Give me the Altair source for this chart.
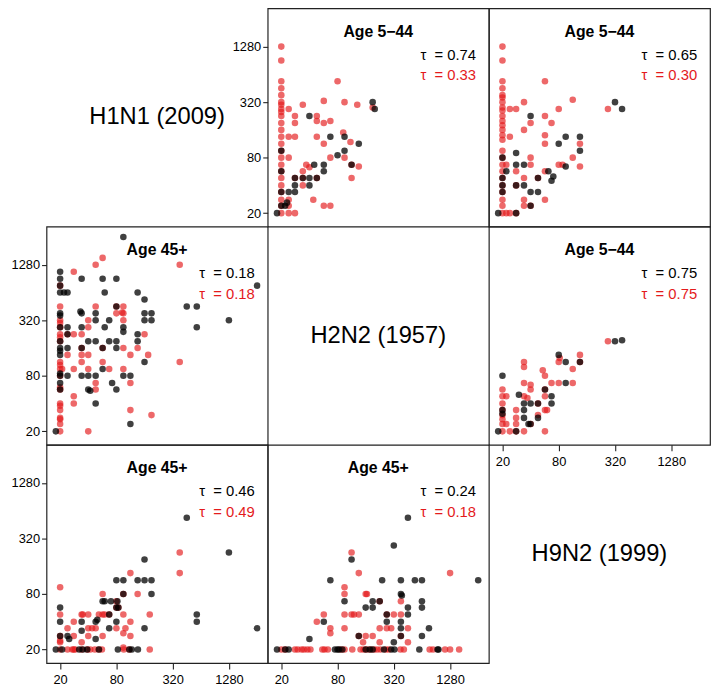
import altair as alt
import pandas as pd

FONT = "Liberation Sans"
RED = "#E41A1C"
TICKS = [20, 80, 320, 1280]
DOMAIN = [14.3, 3327]
W, H = 224, 221

# ---- Age 5-44 panels (upper triangle) ----
p12_red = [(20, 1280), (20, 905), (20, 538), (20, 453), (20, 381), (20, 320), (20, 300), (20, 269),
           (20, 250), (24, 269), (20, 226), (20, 190), (20, 160), (20, 135), (20, 113), (24, 135),
           (28, 135), (20, 95), (20, 80), (24, 80), (20, 67), (20, 57), (20, 48), (20, 40), (20, 34),
           (20, 28), (20, 24), (20, 20), (24, 20), (24, 28), (28, 20), (24, 24), (34, 300), (28, 226),
           (28, 190), (48, 226), (48, 200), (57, 190), (67, 200), (57, 330), (80, 538), (95, 320),
           (130, 300), (190, 280), (48, 135), (57, 113), (92, 150), (110, 118), (67, 80), (95, 80),
           (113, 67), (135, 64), (37, 67), (40, 63), (34, 57), (28, 48), (34, 48), (34, 40), (48, 48),
           (44, 28), (57, 24), (67, 24), (113, 48)]
p12_black = [(18, 20), (20, 24), (22, 24), (20, 34), (20, 57), (20, 95), (24, 34), (28, 40), (28, 34),
             (28, 48), (34, 48), (40, 40), (40, 48), (48, 48), (45, 67), (57, 67), (57, 57), (40, 226),
             (67, 135), (95, 135), (95, 95), (80, 85), (135, 113), (113, 67), (190, 320), (200, 269),
             (23, 26)]

p13_red = [(20, 1280), (20, 905), (20, 538), (20, 453), (20, 381), (20, 360), (20, 320), (20, 280),
           (20, 260), (20, 226), (20, 200), (20, 180), (20, 160), (20, 140), (20, 125), (20, 95),
           (20, 80), (20, 67), (20, 57), (20, 48), (20, 40), (20, 34), (20, 28), (20, 24), (20, 20),
           (24, 135), (24, 269), (28, 269), (34, 320), (57, 538), (113, 340), (80, 269), (57, 226),
           (40, 190), (67, 190), (34, 160), (57, 140), (57, 113), (22, 67), (28, 57), (40, 80),
           (40, 67), (34, 48), (28, 40), (34, 28), (48, 48), (57, 28), (57, 57), (80, 67), (88, 67),
           (113, 80), (135, 64), (135, 113), (269, 269), (24, 20), (28, 20), (34, 24), (40, 24),
           (22, 20)]
p13_black = [(18, 20), (20, 48), (20, 40), (20, 34), (22, 57), (20, 80), (28, 90), (28, 67), (34, 67),
             (28, 40), (34, 40), (40, 34), (48, 34), (40, 24), (28, 20), (48, 48), (62, 57), (67, 45),
             (70, 50), (40, 226), (80, 113), (95, 135), (95, 64), (135, 95), (135, 135), (320, 320),
             (381, 269)]

p23_red = [(20, 57), (20, 48), (20, 40), (20, 34), (20, 30), (20, 27), (20, 24), (20, 20), (22, 48),
           (22, 24), (24, 20), (28, 20), (28, 34), (28, 28), (28, 24), (34, 20), (34, 48), (37, 46),
           (34, 67), (34, 113), (34, 100), (40, 57), (40, 64), (40, 24), (48, 40), (48, 30), (57, 20),
           (57, 48), (57, 34), (57, 57), (60, 34), (57, 80), (54, 92), (67, 67), (80, 113), (82, 125),
           (80, 67), (113, 67), (113, 95), (135, 135), (135, 113), (269, 190)]
p23_black = [(18, 20), (20, 80), (20, 34), (20, 31), (28, 20), (30, 50), (34, 40), (34, 34), (40, 40),
             (48, 28), (34, 28), (40, 24), (38, 24), (48, 40), (57, 57), (67, 40), (67, 48), (80, 135),
             (95, 113), (95, 67), (135, 113), (320, 190), (381, 195)]

# ---- Age 45+ panels (lower triangle) ----
p21_red = [(20, 20), (20, 761), (20, 453), (20, 320), (20, 300), (20, 269), (20, 226), (20, 210),
           (20, 190), (20, 113), (20, 105), (20, 95), (20, 80), (20, 60), (20, 57), (20, 40), (20, 38),
           (20, 34), (20, 28), (20, 27), (20, 24), (21, 95), (24, 226), (28, 1076), (28, 226),
           (28, 40), (28, 48), (24, 135), (28, 95), (34, 226), (34, 135), (34, 160), (34, 113),
           (40, 135), (40, 269), (40, 320), (40, 95), (40, 20), (48, 1280), (48, 453), (48, 67),
           (48, 57), (57, 113), (57, 1522), (57, 160), (67, 95), (80, 453), (80, 381), (92, 390),
           (95, 381), (95, 453), (95, 320), (95, 160), (95, 95), (113, 135), (113, 67), (113, 34),
           (135, 160), (160, 226), (175, 135), (190, 30), (381, 113), (381, 1280)]
p21_black = [(18, 20), (20, 1076), (20, 905), (20, 761), (20, 640), (22, 640), (24, 640), (20, 381),
             (20, 360), (20, 269), (20, 190), (20, 160), (20, 150), (20, 135), (20, 85), (20, 80),
             (20, 67), (20, 57), (24, 269), (24, 226), (24, 160), (24, 80), (34, 381), (33, 400),
             (34, 905), (34, 269), (34, 160), (34, 80), (40, 80), (40, 57), (42, 55), (40, 190),
             (48, 190), (48, 320), (48, 381), (48, 80), (48, 40), (57, 905), (57, 160), (57, 95),
             (60, 640), (60, 269), (67, 320), (67, 190), (72, 67), (80, 190), (80, 57), (80, 160),
             (80, 905), (80, 453), (95, 80), (95, 269), (95, 240), (113, 80), (113, 24), (135, 640),
             (135, 226), (135, 190), (160, 113), (160, 381), (160, 320), (160, 538), (190, 320),
             (190, 381), (95, 2560), (453, 453), (580, 453), (580, 269), (1280, 320), (2560, 761)]

p31_red = [(20, 20), (24, 20), (27, 20), (28, 20), (29, 20), (34, 20), (39, 20), (42, 20), (47, 20),
           (52, 20), (56, 20), (96, 20), (110, 20), (182, 20), (20, 48), (20, 24), (20, 25), (20, 95),
           (24, 34), (28, 40), (28, 28), (34, 48), (35, 48), (34, 24), (40, 34), (40, 28), (40, 48),
           (44, 34), (48, 34), (52, 48), (57, 28), (57, 48), (57, 80), (60, 48), (67, 48), (80, 34),
           (80, 57), (80, 67), (84, 57), (95, 30), (95, 80), (95, 48), (100, 34), (113, 28),
           (113, 135), (113, 40), (95, 21), (135, 80), (182, 48), (381, 226), (381, 135), (20, 28)]
p31_black = [(18, 20), (21, 20), (32, 20), (35, 20), (39, 20), (52, 20), (83, 20), (110, 20),
             (117, 20), (136, 20), (20, 57), (20, 40), (20, 28), (24, 28), (25, 26), (34, 40),
             (34, 32), (48, 40), (48, 26), (50, 42), (57, 67), (60, 67), (67, 48), (67, 34), (70, 67),
             (80, 113), (82, 67), (80, 40), (80, 57), (84, 57), (95, 113), (95, 80), (135, 113),
             (160, 190), (160, 34), (160, 113), (190, 113), (190, 80), (453, 538), (580, 48),
             (580, 40), (1280, 226), (2560, 34)]

p32_red = [(20, 20), (22, 20), (28, 20), (30, 20), (33, 20), (35, 20), (38, 20), (41, 20), (55, 20),
           (58, 20), (63, 20), (87, 20), (95, 20), (115, 20), (141, 20), (152, 20), (164, 20),
           (180, 20), (197, 20), (212, 20), (230, 20), (262, 20), (282, 20), (377, 20), (410, 20),
           (774, 20), (840, 20), (1130, 20), (1280, 20), (1600, 20), (48, 40), (57, 48), (67, 30),
           (67, 34), (95, 80), (95, 95), (95, 48), (95, 34), (113, 226), (113, 48), (120, 48),
           (135, 135), (135, 28), (135, 48), (150, 24), (160, 80), (165, 80), (160, 28), (190, 28),
           (226, 67), (226, 34), (226, 24), (269, 48), (269, 34), (320, 48), (300, 34), (381, 28),
           (381, 67), (381, 48), (453, 34), (453, 24), (1280, 135)]
p32_black = [(18, 20), (22, 20), (24, 20), (75, 20), (80, 20), (83, 20), (90, 20), (160, 20),
             (177, 20), (190, 20), (251, 20), (300, 20), (325, 20), (600, 20), (940, 20), (962, 20),
             (40, 26), (57, 40), (67, 113), (95, 67), (113, 190), (135, 28), (160, 57), (190, 57),
             (190, 67), (226, 67), (240, 113), (269, 48), (269, 40), (320, 269), (320, 24),
             (381, 113), (381, 40), (381, 80), (390, 77), (381, 34), (381, 28), (453, 538), (453, 57),
             (453, 48), (538, 113), (640, 67), (640, 57), (640, 113), (640, 28), (761, 34),
             (2560, 113)]

SCALE = alt.Scale(type="log", base=2, domain=DOMAIN, nice=False)
NB = "\u00a0"


def pts_df(pts):
    return pd.DataFrame({"x": [p[0] for p in pts], "y": [p[1] for p in pts]})


def text_layer(txt, xpos, ypos, **kw):
    return alt.Chart(pd.DataFrame({"t": [txt]})).mark_text(font=FONT, **kw).encode(
        text="t:N", x=alt.value(xpos), y=alt.value(ypos))


def scatter(black, red, title, tau_b, tau_r, show_x, show_y):
    xaxis = alt.Axis(values=TICKS, title=None, format="d") if show_x else None
    yaxis = alt.Axis(values=TICKS, title=None, format="d") if show_y else None
    enc = dict(x=alt.X("x:Q", scale=SCALE, axis=xaxis), y=alt.Y("y:Q", scale=SCALE, axis=yaxis))
    red_l = alt.Chart(pts_df(red)).mark_circle(size=44, opacity=0.66, color=RED).encode(**enc)
    blk_l = alt.Chart(pts_df(black)).mark_circle(size=44, opacity=0.75, color="#000000").encode(**enc)
    t1 = text_layer(title, W / 2, 24, fontSize=16, fontWeight="bold", color="#000000")
    t2 = text_layer("\u03c4" + NB + NB + "= " + tau_b, W - 13, 47, fontSize=15, align="right",
                    color="#000000")
    t3 = text_layer("\u03c4" + NB + NB + "= " + tau_r, W - 13, 68, fontSize=15, align="right",
                    color=RED)
    return alt.layer(red_l, blk_l, t1, t2, t3).properties(width=W, height=H)


def diag(label):
    return text_layer(label, W / 2, H / 2, fontSize=24, color="#000000").properties(
        width=W, height=H, view=alt.ViewBackground(stroke="transparent"))


panels = [
    diag("H1N1 (2009)"),
    scatter(p12_black, p12_red, "Age 5\u221244", "0.74", "0.33", False, True),
    scatter(p13_black, p13_red, "Age 5\u221244", "0.65", "0.30", False, False),
    scatter(p21_black, p21_red, "Age 45+", "0.18", "0.18", False, True),
    diag("H2N2 (1957)"),
    scatter(p23_black, p23_red, "Age 5\u221244", "0.75", "0.75", True, False),
    scatter(p31_black, p31_red, "Age 45+", "0.46", "0.49", True, True),
    scatter(p32_black, p32_red, "Age 45+", "0.24", "0.18", True, False),
    diag("H9N2 (1999)"),
]

PAD = {"left": 2, "top": -5, "right": 0, "bottom": 0}
chart = alt.ConcatChart(concat=panels, columns=3, spacing=0, bounds="flush").properties(
    padding=PAD
).configure(padding=PAD).configure_view(
    stroke="#222222", strokeWidth=1.2).configure_axis(
    domain=False, grid=False, labelFont=FONT, labelFontSize=13, labelColor="#000000",
    tickColor="#222222", tickWidth=1.1, labelFlush=False, labelOverlap=False
).configure_axisX(tickSize=6, labelPadding=5).configure_axisY(tickSize=5, labelPadding=2)

chart.save("out.html", embed_options={"renderer": "svg", "actions": False})
